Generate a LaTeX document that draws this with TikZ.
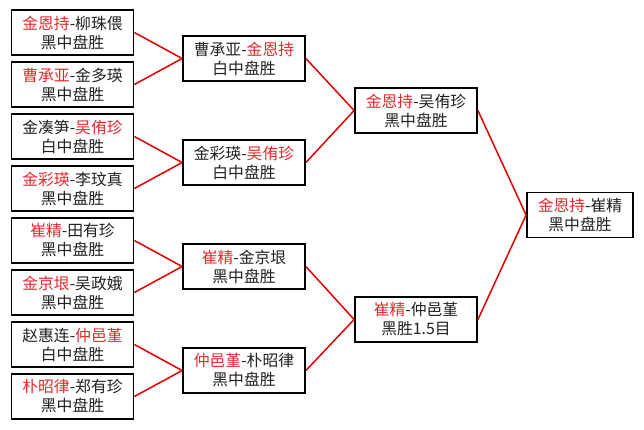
\documentclass[tikz,border=0pt]{standalone}
\usepackage{fontspec}
\setmainfont{Noto Sans CJK SC}
\usetikzlibrary{positioning}
\definecolor{winred}{HTML}{E8282D}
\definecolor{linered}{HTML}{E00000}
\definecolor{txtgray}{HTML}{222222}

\tikzset{
  game/.style={draw=black, line width=1.8pt, fill=white, text=txtgray,
    minimum width=122pt, minimum height=45pt, inner sep=0pt, align=center,
    font=\fontsize{15.8}{19}\selectfont},
  link/.style={draw=linered, line width=1.5pt}
}
\newcommand{\win}[1]{\textcolor{winred}{#1}}

\begin{document}
\begin{tikzpicture}[x=1pt, y=-1pt]
\useasboundingbox[fill=white] (0,0) rectangle (644,429);

% first round
\node[game] (r1a) at (72.5,32.5)  {\win{金恩持}-柳珠偎\\黑中盘胜};
\node[game] (r1b) at (72.5,84.5)  {\win{曹承亚}-金多瑛\\黑中盘胜};
\node[game] (r1c) at (72.5,136.5) {金凑笋-\win{吴侑珍}\\白中盘胜};
\node[game] (r1d) at (72.5,188.5) {\win{金彩瑛}-李玟真\\黑中盘胜};
\node[game] (r1e) at (72.5,240.5) {\win{崔精}-田有珍\\黑中盘胜};
\node[game] (r1f) at (72.5,292.5) {\win{金京垠}-吴政娥\\黑中盘胜};
\node[game] (r1g) at (72.5,344.5) {赵惠连-\win{仲邑堇}\\白中盘胜};
\node[game] (r1h) at (72.5,396.5) {\win{朴昭律}-郑有珍\\黑中盘胜};

% second round
\node[game] (r2a) at (244,58.5)  {曹承亚-\win{金恩持}\\白中盘胜};
\node[game] (r2b) at (244,162.5) {金彩瑛-\win{吴侑珍}\\白中盘胜};
\node[game] (r2c) at (244,266.5) {\win{崔精}-金京垠\\黑中盘胜};
\node[game] (r2d) at (244,370.5) {\win{仲邑堇}-朴昭律\\黑中盘胜};

% semifinals
\node[game] (r3a) at (416,110.5) {\win{金恩持}-吴侑珍\\黑中盘胜};
\node[game] (r3b) at (416,319.5) {\win{崔精}-仲邑堇\\黑胜1.5目};

% final
\node[game, minimum width=106pt] (fin) at (580,215) {\win{金恩持}-崔精\\黑中盘胜};

\foreach \a/\b in {r1a/r2a, r1b/r2a, r1c/r2b, r1d/r2b, r1e/r2c, r1f/r2c, r1g/r2d, r1h/r2d,
                   r2a/r3a, r2b/r3a, r2c/r3b, r2d/r3b, r3a/fin, r3b/fin}
  \draw[link] (\a.east) -- (\b.west);
\end{tikzpicture}
\end{document}
